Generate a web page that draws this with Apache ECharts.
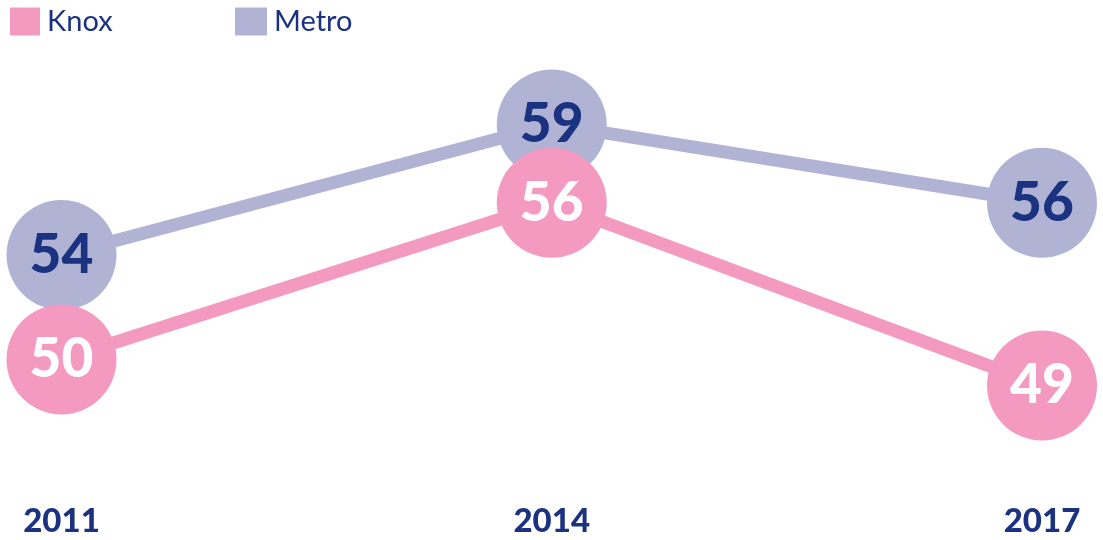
<!DOCTYPE html>
<html><head><meta charset="utf-8">
<script src="https://cdn.jsdelivr.net/npm/echarts@6/dist/echarts.min.js"></script>
<style>html,body{margin:0;padding:0;background:#fff}#c{width:1103px;height:540px}</style>
</head><body><div id="c"></div>
<script>
const years = ['2011', '2014', '2017'];
const knox = [50, 56, 49];
const metro = [54, 59, 56];

const PINK = '#f49ac1', LAV = '#b0b3d3', NAVY = '#1b3281';
const FONT = 'Lato';
const legendText = { color: NAVY, fontSize: 29, fontWeight: 'normal', fontFamily: FONT, padding: [0, 0, 0, 2] };
const chart = echarts.init(document.getElementById('c'));
chart.setOption({
  animation: false,
  textStyle: { fontFamily: FONT },
  legend: [
    { left: 5, top: 2, itemWidth: 30, itemHeight: 28, icon: 'rect', data: ['Knox'], textStyle: legendText },
    { left: 230, top: 2, itemWidth: 32, itemHeight: 28, icon: 'rect', data: ['Metro'], textStyle: legendText }
  ],
  grid: { left: 61.5, right: 61, top: 20, bottom: 50 },
  xAxis: {
    type: 'category', data: years, boundaryGap: false,
    axisLine: { show: false }, axisTick: { show: false }, splitLine: { show: false },
    axisLabel: { color: NAVY, fontSize: 33, fontWeight: 900, margin: 15, fontFamily: FONT }
  },
  yAxis: { type: 'value', min: 45, max: 63, show: false, splitLine: { show: false } },
  series: [
    {
      name: 'Metro', type: 'line', data: metro, symbol: 'circle', symbolSize: 110,
      itemStyle: { color: LAV }, lineStyle: { color: LAV, width: 13 },
      label: { show: true, position: 'inside', color: NAVY, fontSize: 55, fontWeight: 900, fontFamily: FONT }
    },
    {
      name: 'Knox', type: 'line', data: knox, symbol: 'circle', symbolSize: 110,
      itemStyle: { color: PINK }, lineStyle: { color: PINK, width: 13 },
      label: { show: true, position: 'inside', color: '#ffffff', fontSize: 55, fontWeight: 900, fontFamily: FONT }
    }
  ]
});
</script></body></html>
